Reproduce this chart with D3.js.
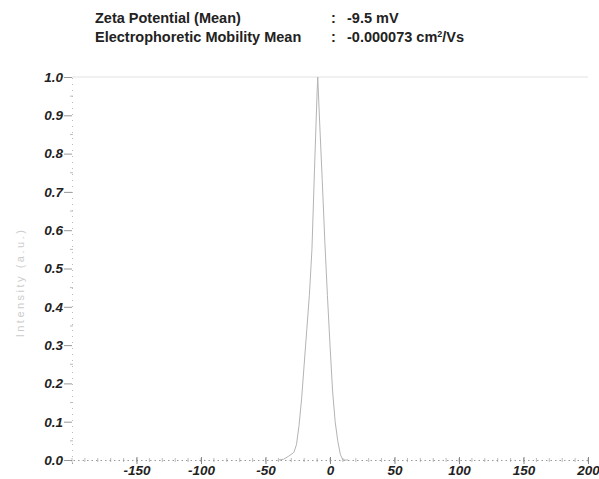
<!DOCTYPE html>
<html>
<head>
<meta charset="utf-8">
<script src="https://cdn.jsdelivr.net/npm/d3@7"></script>
<style>
  body { margin: 0; background: #fff; overflow: hidden; }
  svg { display: block; }
  text { font-family: "Liberation Sans", Arial, sans-serif; }
</style>
</head>
<body>
<div id="chart"></div>
<script>
// header
var headerLabels = ['Zeta Potential (Mean)', 'Electrophoretic Mobility Mean'];
var headerValues = ['-9.5 mV', '-0.000073 cm²/Vs'];

// ticks
var xTicks = [-150, -100, -50, 0, 50, 100, 150, 200];
var yTicks = [0, 0.1, 0.2, 0.3, 0.4, 0.5, 0.6, 0.7, 0.8, 0.9, 1.0];

// zeta potential distribution (mV, intensity)
var zeta = [-40, -36, -32, -28, -26, -24, -22, -20, -18, -16, -14, -12, -10, -9.5, -8, -6, -4, -2, 0, 2, 4, 6, 8, 10, 14];
var intensity = [0, 0.002, 0.01, 0.02, 0.04, 0.09, 0.16, 0.25, 0.34, 0.43, 0.55, 0.76, 0.96, 1.0, 0.88, 0.73, 0.57, 0.43, 0.3, 0.18, 0.1, 0.05, 0.015, 0, 0];

var W = 599, H = 479;
// plot edges
var pL = 72, pR = 588, pT = 77, pB = 460;

var svg = d3.select('#chart').append('svg')
  .attr('width', W)
  .attr('height', H);

var x = d3.scaleLinear().domain([-200, 200]).range([pL, pR]);
var y = d3.scaleLinear().domain([0, 1]).range([pB, pT]);

// header text
var hd = svg.append('g').attr('fill', '#222').attr('font-size', 14.5).attr('font-weight', 'bold');
headerLabels.forEach(function (t, i) {
  hd.append('text').attr('x', 95).attr('y', 23 + i * 19).text(t);
  hd.append('text').attr('x', 331).attr('y', 23 + i * 19).text(':');
  var v = hd.append('text').attr('x', 347).attr('y', 23 + i * 19);
  if (headerValues[i].indexOf('cm²') >= 0) {
    v.append('tspan').text('-0.000073 cm');
    v.append('tspan').attr('font-size', 9).attr('dy', -5).text('2');
    v.append('tspan').attr('dy', 5).text('/Vs');
  } else {
    v.text(headerValues[i]);
  }
});

// top line at 1.0
svg.append('line')
  .attr('x1', pL).attr('x2', pR)
  .attr('y1', y(1)).attr('y2', y(1))
  .attr('stroke', '#e2e2e2')
  .attr('stroke-width', 1);

// minor ticks: x
svg.append('g')
  .selectAll('line')
  .data(d3.range(-200, 201, 10))
  .join('line')
  .attr('x1', function (d) { return x(d); })
  .attr('x2', function (d) { return x(d); })
  .attr('y1', pB - 2)
  .attr('y2', pB + 2)
  .attr('stroke', '#aaa')
  .attr('stroke-width', 0.8);

// minor ticks: y
svg.append('g')
  .selectAll('line')
  .data(d3.range(0.05, 1, 0.1))
  .join('line')
  .attr('x1', pL - 2)
  .attr('x2', pL + 1)
  .attr('y1', function (d) { return y(d); })
  .attr('y2', function (d) { return y(d); })
  .attr('stroke', '#aaa')
  .attr('stroke-width', 0.8);

// x axis
var gx = svg.append('g')
  .attr('transform', 'translate(0,' + pB + ')')
  .call(d3.axisBottom(x).tickValues(xTicks).tickSize(4).tickPadding(1).tickFormat(d3.format('d')));
gx.select('.domain').attr('stroke', '#999').attr('stroke-dasharray', '1.5,3');
gx.selectAll('.tick line').attr('stroke', '#888').attr('y1', -3);
gx.selectAll('.tick text')
  .attr('fill', '#222')
  .attr('font-size', 13.5)
  .attr('font-weight', 'bold')
  .attr('font-style', 'italic')
  .attr('font-family', '"Liberation Sans", Arial, sans-serif')
  .text(function (d) { return d < 0 ? '-' + Math.abs(d) : d; });

// y axis
var gy = svg.append('g')
  .attr('transform', 'translate(' + pL + ',0)')
  .call(d3.axisLeft(y).tickValues(yTicks).tickSize(8).tickPadding(1).tickFormat(d3.format('.1f')));
gy.select('.domain').attr('stroke', '#bbb').attr('stroke-dasharray', '1,5');
gy.selectAll('.tick line').attr('stroke', '#999');
gy.selectAll('.tick text')
  .attr('fill', '#222')
  .attr('font-size', 13.5)
  .attr('font-weight', 'bold')
  .attr('font-style', 'italic')
  .attr('font-family', '"Liberation Sans", Arial, sans-serif');

// y label
svg.append('text')
  .attr('transform', 'translate(24,' + ((pT + pB) / 2 + 14) + ') rotate(-90)')
  .attr('text-anchor', 'middle')
  .attr('fill', '#ccc')
  .attr('font-size', 11)
  .attr('letter-spacing', 2.5)
  .attr('font-family', '"DejaVu Sans Mono", monospace')
  .text('Intensity (a.u.)');

// distribution curve
var line = d3.line()
  .x(function (d, i) { return x(zeta[i]); })
  .y(function (d, i) { return y(intensity[i]); });

svg.append('path')
  .datum(zeta)
  .attr('d', line)
  .attr('fill', 'none')
  .attr('stroke', '#b4b4b4')
  .attr('stroke-width', 1);
</script>
</body>
</html>
